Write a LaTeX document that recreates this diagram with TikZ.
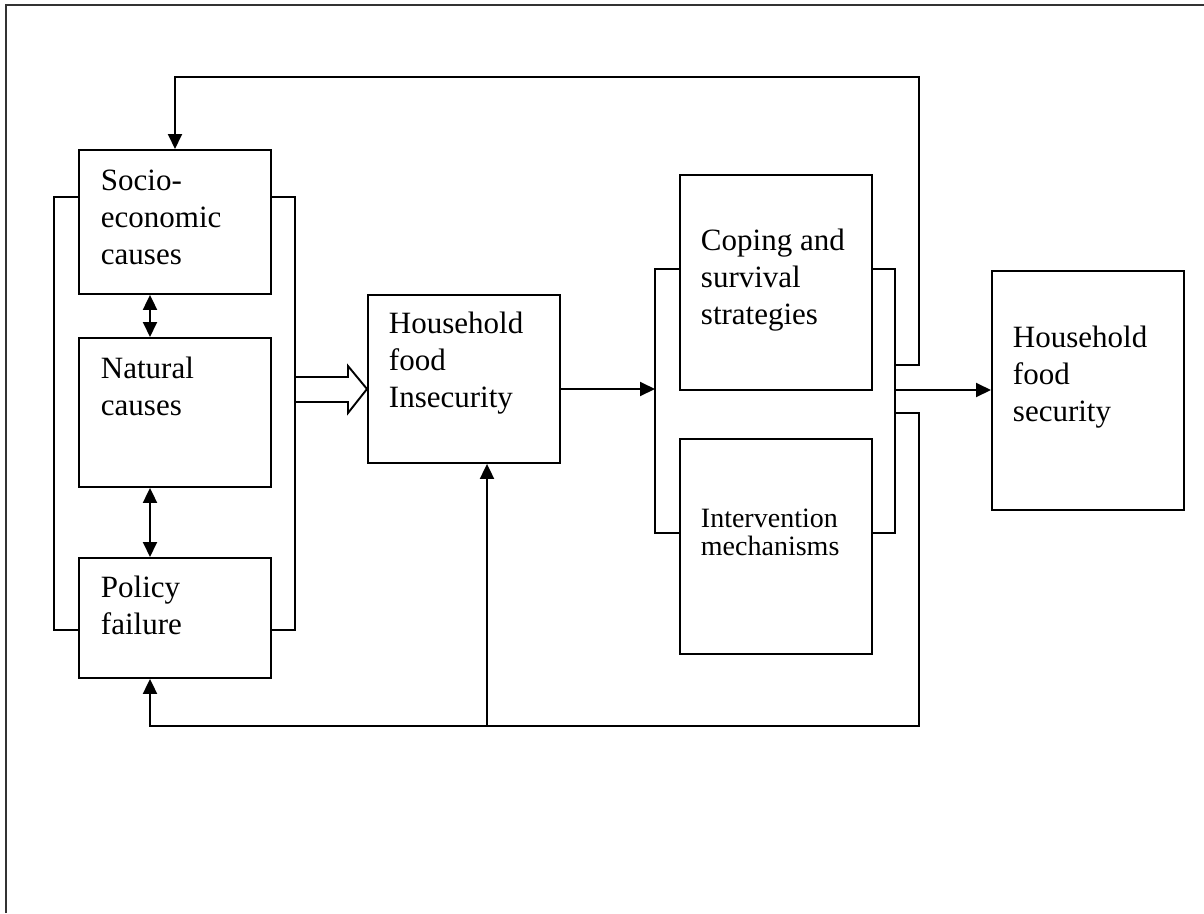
\documentclass[tikz,border=0pt]{standalone}
\usepackage{fontspec}
\setmainfont{Liberation Serif}
\usetikzlibrary{arrows.meta}
\newcommand\mlines[1]{\begin{tabular}[t]{@{}l@{}}#1\end{tabular}}
\begin{document}
\begin{tikzpicture}[x=1pt,y=-1pt,line width=1.9pt,
  box/.style={draw,rectangle,anchor=north west,inner sep=0pt},
  txt/.style={anchor=base west,inner sep=0pt,font=\fontsize{31}{37}\selectfont},
  txtsm/.style={anchor=base west,inner sep=0pt,font=\fontsize{28}{28}\selectfont},
  tip/.style={-{Triangle[length=15pt,width=14pt]}},
  dtip/.style={{Triangle[length=15pt,width=14pt]}-{Triangle[length=15pt,width=14pt]}}]
\useasboundingbox (0,0) rectangle (1204,913);
% page frame
\draw[line width=1.6pt,black!80] (6,913) -- (6,5) -- (1204,5);
% boxes
\node[box,minimum width=192pt,minimum height=144pt] (se) at (78,149) {};
\node[box,minimum width=192pt,minimum height=149pt] (nat) at (78,337) {};
\node[box,minimum width=192pt,minimum height=120pt] (pol) at (78,557) {};
\node[box,minimum width=192pt,minimum height=168pt] (hfi) at (367,294) {};
\node[box,minimum width=192pt,minimum height=215pt] (cop) at (679,174) {};
\node[box,minimum width=192pt,minimum height=215pt] (int) at (679,438) {};
\node[box,minimum width=192pt,minimum height=239pt] (hfs) at (991,270) {};
% texts
\node[txt] (tse) at (100,190) {\mlines{Socio-\\economic\\causes}};
\node[txt] (tnat) at (100,378) {\mlines{Natural\\causes}};
\node[txt] (tpol) at (100,597) {\mlines{Policy\\failure}};
\node[txt] (thfi) at (388,333) {\mlines{Household\\food\\Insecurity}};
\node[txt] (tcop) at (700,250) {\mlines{Coping and\\survival\\strategies}};
\node[txtsm] (tint) at (700,527) {\mlines{Intervention\\mechanisms}};
\node[txt] (thfs) at (1012,347) {\mlines{Household\\food\\security}};
% brackets left group
\draw (se.west |- 0,197) -- (54,197) -- (54,630) -- (pol.west |- 0,630);
\draw (se.east |- 0,197) -- (295,197) -- (295,630) -- (pol.east |- 0,630);
% brackets right group
\coordinate (lb) at (655,389);
\draw (cop.west |- 0,269) -- (655,269) -- (655,533) -- (int.west |- 0,533);
\draw (cop.east |- 0,269) -- (895,269) -- (895,533) -- (int.east |- 0,533);
% double arrows
\draw[dtip] (se.south -| 150,0) -- (nat.north -| 150,0);
\draw[dtip] (nat.south -| 150,0) -- (pol.north -| 150,0);
% hollow block arrow
\draw[line join=miter] (295,377) -- (348,377) -- (348,366) -- (hfi.west |- 0,389) -- (348,413) -- (348,402) -- (295,402);
% flow arrows
\draw[tip] (hfi.east |- lb) -- (lb);
\draw[tip] (895,390) -- (hfs.west |- 0,390);
% top feedback
\draw[tip] (895,365) -- (919,365) -- (919,77) -- (175,77) -- (se.north -| 175,0);
% bottom feedback
\draw[tip] (895,413) -- (919,413) -- (919,726) -- (150,726) -- (pol.south -| 150,0);
\draw[tip] (487,726) -- (hfi.south -| 487,0);
\end{tikzpicture}
\end{document}
